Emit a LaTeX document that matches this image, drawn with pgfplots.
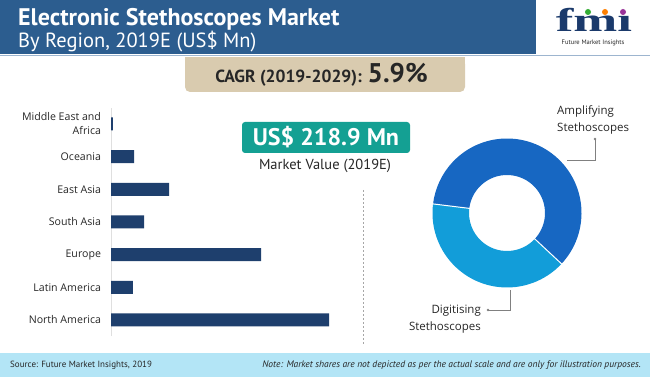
\documentclass[border=0pt]{standalone}
\usepackage{pgfplots}
\pgfplotsset{compat=1.18}
\usepackage{pgfplotstable}
\usepackage{fontspec}
\setmainfont{Open Sans}
\newfontfamily\pts{PT Sans}
\newfontfamily\lserif{Liberation Serif}

\definecolor{hdr}{HTML}{2C5D8F}
\definecolor{hdrline}{HTML}{9DB5CF}
\definecolor{barnavy}{HTML}{1E3F6D}
\definecolor{teal}{HTML}{14A093}
\definecolor{beige}{HTML}{D9CBAF}
\definecolor{foot}{HTML}{B3E5F6}
\definecolor{amp}{HTML}{1767C2}
\definecolor{dig}{HTML}{129DD9}
\definecolor{logonavy}{HTML}{1B3A6B}
\definecolor{txt}{HTML}{262626}

\pgfplotstableread{
pos value
0 94.3
1 9.5
2 64.9
3 14.3
4 25.1
5 10.0
6 0.8
}\regiontable

\pgfplotstableread{
segment share
Amplifying 60
Digitising 40
}\donuttable
\pgfplotstablegetelem{0}{share}\of\donuttable\let\shareA\pgfplotsretval
\pgfplotstablegetelem{1}{share}\of\donuttable\let\shareB\pgfplotsretval
\pgfmathsetmacro\angA{-43}
\pgfmathsetmacro\angB{\angA+3.6*\shareA}
\pgfmathsetmacro\angC{\angB+3.6*\shareB}

\begin{document}
\begin{tikzpicture}[x=1pt,y=1pt]
\path[use as bounding box] (0,0) rectangle (650,377);
% header
\fill[hdr] (0,322.5) rectangle (536,377);
\fill[white] (536,322.5) rectangle (650,377);
\draw[hdrline, line width=1.2pt] (0,321.8) -- (650,321.8);
\node[anchor=base west, inner sep=0, text=white, font=\pts\bfseries\fontsize{24}{26}\selectfont] at (18,351) {Electronic Stethoscopes Market};
\node[anchor=base west, inner sep=0, text=white, font=\pts\fontsize{20.5}{22}\selectfont] at (18,329) {By Region, 2019E (US\$ Mn)};
% logo
\node[anchor=base, inner sep=0, text=logonavy, font=\lserif\bfseries\fontsize{33}{34}\selectfont, xscale=1.6] at (594,345) {fmı};
\fill[green!60!black!80] (588,365) circle (3);
\fill[orange] (605,365) circle (3);
\fill[violet!80] (623,365) circle (3);
\node[anchor=base, inner sep=0, text=txt, font=\pts\fontsize{6.5}{7}\selectfont] at (593,332) {Future Market Insights};
% CAGR box
\fill[beige, rounded corners=5pt] (185,285) rectangle (465,318);
\fill[beige] (185,306) rectangle (465,320);
\node[anchor=base, inner sep=0, text=txt, font=\pts\bfseries] at (321.5,294) {{\fontsize{17.5}{18}\selectfont CAGR (2019-2029): }{\fontsize{27}{28}\selectfont 5.9\%}};
% market value
\fill[teal, rounded corners=3pt] (242,224) rectangle (410,255);
\node[anchor=center, inner sep=0, text=white, font=\pts\bfseries\fontsize{24}{26}\selectfont] at (326,239.5) {US\$ 218.9 Mn};
\node[anchor=base, inner sep=0, text=txt, font=\pts\fontsize{14.5}{16}\selectfont] at (325,207) {Market Value (2019E)};
% dashed separator
\draw[gray!70, line width=0.6pt, dash pattern=on 2pt off 2pt] (363,187) -- (363,32);
% bar chart
\begin{axis}[
  at={(111pt,40.7pt)}, anchor=south west,
  scale only axis, width=231.2pt, height=228.7pt,
  xmin=0, xmax=100, ymin=-0.5, ymax=6.5,
  xbar, bar width=13pt,
  axis x line=none, axis y line*=left,
  y axis line style={draw=gray!25, line width=0.8pt, -},
  ytick={0,...,6},
  yticklabels={North America, Latin America, Europe, South Asia, East Asia, Oceania, {Middle East and\\Africa}},
  major tick length=0pt,
  yticklabel style={font=\fontsize{10.6}{14}\selectfont, align=right, text=txt, xshift=-6.5pt},
  clip=false,
]
\addplot[fill=barnavy, draw=none] table[x=value, y=pos] {\regiontable};
\end{axis}
% donut
\begin{axis}[
  at={(407pt,64pt)}, anchor=south west,
  scale only axis, width=200pt, height=200pt,
  xmin=-100, xmax=100, ymin=-100, ymax=100,
  hide axis, clip=false,
]
\fill[amp] (axis cs:0,0) ++(\angA:74.5pt) arc[start angle=\angA, end angle=\angB, radius=74.5pt] -- ++(\angB+180:36.5pt) arc[start angle=\angB, end angle=\angA, radius=38pt] -- cycle;
\fill[dig] (axis cs:0,0) ++(\angB:74.5pt) arc[start angle=\angB, end angle=\angC, radius=74.5pt] -- ++(\angC+180:36.5pt) arc[start angle=\angC, end angle=\angB, radius=38pt] -- cycle;
\draw[white, line width=1pt] (axis cs:0,0) ++(\angA:37pt) -- ++(\angA:38.5pt);
\draw[white, line width=1pt] (axis cs:0,0) ++(\angB:37pt) -- ++(\angB:38.5pt);
\end{axis}
% leader lines and labels
\draw[gray, line width=0.7pt] (595,238) -- (595,217) -- (567,217);
\fill[gray] (595,238) circle (1.3);
\draw[gray, line width=0.7pt] (488,67) -- (510,67) -- (510,87);
\fill[gray] (488,67) circle (1.3);
\node[anchor=base west, inner sep=0, text=txt, font=\fontsize{11.5}{12}\selectfont] at (557,262) {Amplifying};
\node[anchor=base west, inner sep=0, text=txt, font=\fontsize{11.5}{12}\selectfont] at (557,245) {Stethoscopes};
\node[anchor=base east, inner sep=0, text=txt, font=\fontsize{11.5}{12}\selectfont] at (481,63) {Digitising};
\node[anchor=base east, inner sep=0, text=txt, font=\fontsize{11.5}{12}\selectfont] at (481,46) {Stethoscopes};
% footer
\fill[foot] (0,0) rectangle (650,24);
\node[anchor=base west, inner sep=0, text=txt, font=\pts\fontsize{9}{10}\selectfont] at (10,9) {Source: Future Market Insights, 2019};
\node[anchor=base east, inner sep=0, text=txt, font=\pts\itshape\fontsize{9.5}{10}\selectfont] at (641,9) {Note: Market shares are not depicted as per the actual scale and are only for illustration purposes.};
\end{tikzpicture}
\end{document}
